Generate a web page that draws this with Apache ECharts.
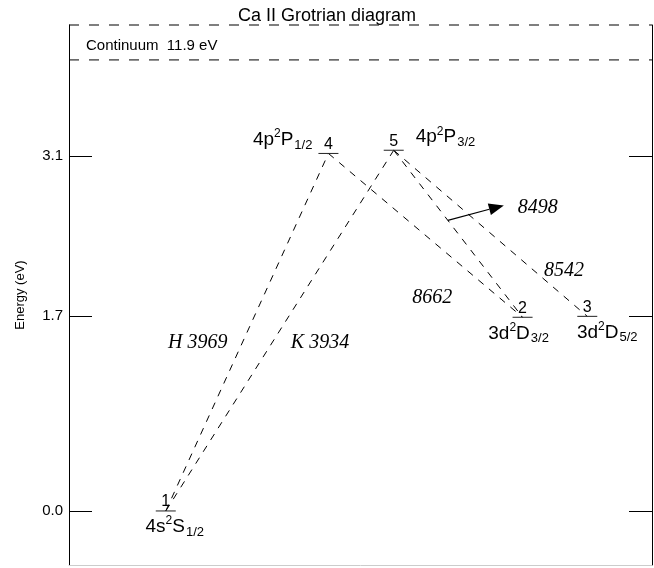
<!DOCTYPE html>
<html><head><meta charset="utf-8">
<script src="https://cdn.jsdelivr.net/npm/echarts@6/dist/echarts.min.js"></script>
<style>html,body{margin:0;padding:0;background:#fff}#c{width:654px;height:568px}</style>
</head><body><div id="c"></div>
<script>
// ---- data ----
const levelIds = ['1', '2', '3', '4', '5'];
const levelEnergy = [0.000, 1.692, 1.700, 3.123, 3.151];      // eV
const levelSlot = [16.6, 77.8, 88.9, 44.5, 55.7];             // horizontal slot (0-100)
const levelConfig = ['4s', '3d', '3d', '4p', '4p'];
const levelTermL = ['S', 'D', 'D', 'P', 'P'];
const levelJ = ['1/2', '3/2', '5/2', '1/2', '3/2'];
const transFrom = ['1', '1', '5', '5', '4'];
const transTo = ['4', '5', '2', '3', '2'];
const transLabel = ['H 3969', 'K 3934', '8498', '8542', '8662'];
const yTickValues = [0.0, 1.7, 3.1];
const continuumLabel = 'Continuum  11.9 eV';
const continuumShown = 3.94;   // position of broken-axis continuum line
const yMin = -0.472, yMax = 4.245;

// ---- layout (not data) ----
const transLabelPos = [[22.1, 1.467], [43.05, 1.467], [80.4, 2.65], [84.9, 2.10], [62.3, 1.86]];
const levelLabelLayout = [
  { dx: 9, dy: 16, align: 'center' },
  { dx: -4, dy: 16, align: 'center' },
  { dx: 20, dy: 16, align: 'center' },
  { dx: -16, dy: -14, align: 'right' },
  { dx: 22, dy: -13, align: 'left' }
];
const SANS = '"Liberation Sans", Arial, sans-serif';
const SERIF = '"Liberation Serif", "Times New Roman", serif';

const idx = id => levelIds.indexOf(id);
const levelData = levelIds.map((id, i) => [levelSlot[i], levelEnergy[i], i]);
const transData = transFrom.map((f, i) => [levelSlot[idx(f)], levelEnergy[idx(f)], levelSlot[idx(transTo[i])], levelEnergy[idx(transTo[i])], transLabelPos[i][0], transLabelPos[i][1], i]);

const rich = {
  m: { fontSize: 19, fontFamily: SANS, color: '#000', lineHeight: 28, verticalAlign: 'middle' },
  sup: { fontSize: 12, fontFamily: SANS, color: '#000', lineHeight: 28, verticalAlign: 'top', padding: [2, 0, 0, 0] },
  sub: { fontSize: 13, fontFamily: SANS, color: '#000', lineHeight: 28, verticalAlign: 'bottom', padding: [0, 0, 2, 1] }
};

const chart = echarts.init(document.getElementById('c'), null, { renderer: 'canvas' });
chart.setOption({
  animation: false,
  backgroundColor: '#fff',
  title: {
    text: 'Ca II Grotrian diagram', left: 'center', top: 2,
    textStyle: { fontFamily: SANS, fontSize: 18, fontWeight: 'normal', color: '#000' }
  },
  grid: { left: 69, right: 2, top: 25, bottom: 3 },
  xAxis: {
    type: 'value', min: 0, max: 100,
    axisLine: { show: true, onZero: false, lineStyle: { color: '#ccc' } },
    axisTick: { show: false }, axisLabel: { show: false }, splitLine: { show: false }
  },
  yAxis: [
    {
      type: 'value', min: yMin, max: yMax, position: 'left',
      name: 'Energy (eV)', nameLocation: 'middle', nameGap: 42,
      nameTextStyle: { fontFamily: SANS, fontSize: 13, color: '#000' },
      axisLine: { show: true, onZero: false, lineStyle: { color: '#000' } },
      axisTick: { show: true, inside: true, length: 23, customValues: yTickValues, lineStyle: { color: '#000' } },
      axisLabel: { customValues: yTickValues, formatter: v => v.toFixed(1), fontFamily: SANS, fontSize: 15, color: '#000', margin: 6 },
      splitLine: { show: false }
    },
    {
      type: 'value', min: yMin, max: yMax, position: 'right',
      axisLine: { show: true, onZero: false, lineStyle: { color: '#000' } },
      axisTick: { show: true, inside: true, length: 23, customValues: yTickValues, lineStyle: { color: '#000' } },
      axisLabel: { show: false },
      splitLine: { show: false }
    }
  ],
  series: [
    {
      type: 'custom', name: 'frame', data: [[0, continuumShown]],
      renderItem(params, api) {
        const cs = params.coordSys;
        const yc = api.coord([0, api.value(1)])[1];
        const dash = { stroke: '#000', lineWidth: 1, lineDash: [10, 10] };
        return {
          type: 'group', children: [
            { type: 'line', shape: { x1: cs.x, y1: cs.y, x2: cs.x + cs.width, y2: cs.y }, style: dash },
            { type: 'line', shape: { x1: cs.x, y1: yc, x2: cs.x + cs.width, y2: yc }, style: dash },
            { type: 'text', x: cs.x + 17, y: yc - 14, style: { text: continuumLabel, fontFamily: SANS, fontSize: 15, fill: '#000', align: 'left', verticalAlign: 'middle' } }
          ]
        };
      }
    },
    {
      type: 'custom', name: 'transitions', data: transData,
      renderItem(params, api) {
        const a = api.coord([api.value(0), api.value(1)]);
        const b = api.coord([api.value(2), api.value(3)]);
        const lp = api.coord([api.value(4), api.value(5)]);
        const i = api.value(6);
        const children = [
          { type: 'line', shape: { x1: a[0], y1: a[1], x2: b[0], y2: b[1] }, style: { stroke: '#000', lineWidth: 1, lineDash: [7, 7] } },
          { type: 'text', x: lp[0], y: lp[1], style: { text: transLabel[i], fontFamily: SERIF, fontStyle: 'italic', fontSize: 20, fill: '#000', align: 'center', verticalAlign: 'middle' } }
        ];
        if (transLabel[i] === '8498') {
          const t = 0.42;
          const tx = a[0] + (b[0] - a[0]) * t, ty = a[1] + (b[1] - a[1]) * t;
          const hx = tx + 56, hy = ty - 15;
          const ang = Math.atan2(hy - ty, hx - tx);
          const L = 15, W = 6;
          const bx = hx - L * Math.cos(ang), by = hy - L * Math.sin(ang);
          const nx = -Math.sin(ang) * W, ny = Math.cos(ang) * W;
          children.push({ type: 'line', shape: { x1: tx, y1: ty, x2: bx, y2: by }, style: { stroke: '#000', lineWidth: 1.2 } });
          children.push({ type: 'polygon', shape: { points: [[hx, hy], [bx + nx, by + ny], [bx - nx, by - ny]] }, style: { fill: '#000' } });
        }
        return { type: 'group', children };
      }
    },
    {
      type: 'custom', name: 'levels', data: levelData,
      renderItem(params, api) {
        const p = api.coord([api.value(0), api.value(1)]);
        const i = api.value(2);
        const lay = levelLabelLayout[i];
        const txt = '{m|' + levelConfig[i] + '}{sup|2}{m|' + levelTermL[i] + '}{sub|' + levelJ[i] + '}';
        return {
          type: 'group', children: [
            { type: 'line', shape: { x1: p[0] - 10, y1: p[1], x2: p[0] + 10, y2: p[1] }, style: { stroke: '#222', lineWidth: 1 } },
            { type: 'text', x: p[0], y: p[1] - 1, style: { text: levelIds[i], fontFamily: SANS, fontSize: 16, fill: '#000', align: 'center', verticalAlign: 'bottom' } },
            { type: 'text', x: p[0] + lay.dx, y: p[1] + lay.dy, style: { text: txt, rich, align: lay.align, verticalAlign: 'middle' } }
          ]
        };
      }
    }
  ]
});
</script>
</body></html>
